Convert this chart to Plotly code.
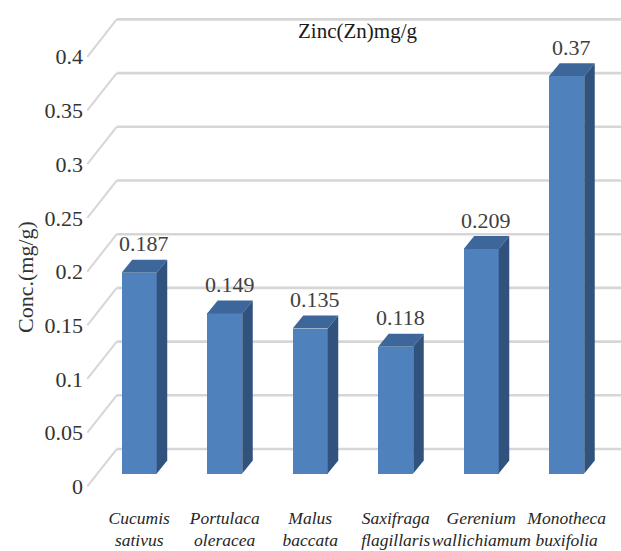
import plotly.graph_objects as go

# Zinc concentration per plant species (mg/g)
species = ["Cucumis<br>sativus", "Portulaca<br>oleracea", "Malus<br>baccata",
           "Saxifraga<br>flagillaris", "Gerenium<br>wallichiamum", "Monotheca<br>buxifolia"]
zinc = [0.187, 0.149, 0.135, 0.118, 0.209, 0.37]
y_ticks = [0, 0.05, 0.1, 0.15, 0.2, 0.25, 0.3, 0.35, 0.4]
y_tick_text = ["0", "0.05", "0.1", "0.15", "0.2", "0.25", "0.3", "0.35", "0.4"]

FRONT = "#4f81bd"
TOP = "#3d679a"
SIDE = "#30527c"
GRID = "#d6d6d6"
FONT = "Liberation Serif, Times New Roman, serif"

# pseudo-3D geometry (category units along x, value units along y)
BAR_W = 0.41          # front face width
DEPTH_X = 0.123       # bar depth projected on x
DEPTH_Y = 0.0121      # bar depth projected on y
WALL_Y = 0.0228       # back wall lift relative to the front plane
WALL_X0 = -0.263      # left edge of back wall
DIAG_X = -0.607       # lower end of the side-wall diagonals
DIAG_Y = -0.0348      # vertical drop of the side-wall diagonals

xs = list(range(len(zinc)))

fig = go.Figure()

# back wall gridlines plus the side-wall diagonals
for t in y_ticks:
    yb = t + WALL_Y
    fig.add_shape(type="line", xref="x", yref="y", layer="below",
                  x0=WALL_X0, y0=yb, x1=6.5, y1=yb,
                  line=dict(color=GRID, width=2.6))
    fig.add_shape(type="line", xref="x", yref="y", layer="below",
                  x0=DIAG_X, y0=yb + DIAG_Y, x1=WALL_X0, y1=yb,
                  line=dict(color=GRID, width=2))

# front faces
fig.add_trace(go.Bar(x=xs, y=zinc, width=BAR_W, marker=dict(color=FRONT, line=dict(width=0)),
                     hoverinfo="skip", showlegend=False))

# top and side faces of each bar
for x, v in zip(xs, zinc):
    xl, xr = x - BAR_W / 2, x + BAR_W / 2
    fig.add_trace(go.Scatter(
        x=[xl, xr, xr + DEPTH_X, xl + DEPTH_X, xl],
        y=[v, v, v + DEPTH_Y, v + DEPTH_Y, v],
        fill="toself", fillcolor=TOP, mode="lines", line=dict(width=0, color=TOP),
        hoverinfo="skip", showlegend=False))
    fig.add_trace(go.Scatter(
        x=[xr, xr + DEPTH_X, xr + DEPTH_X, xr, xr],
        y=[0, DEPTH_Y, v + DEPTH_Y, v, 0],
        fill="toself", fillcolor=SIDE, mode="lines", line=dict(width=0, color=SIDE),
        hoverinfo="skip", showlegend=False))

# value labels above each bar
for x, v in zip(xs, zinc):
    fig.add_annotation(x=x + DEPTH_X / 2, y=v + DEPTH_Y, xref="x", yref="y",
                       text=str(v), showarrow=False, yanchor="middle", yshift=16,
                       font=dict(family=FONT, size=22, color="#404040"))

# chart title and value-axis title
fig.add_annotation(x=0.5084, y=0.9376, xref="paper", yref="paper", text="Zinc(Zn)mg/g",
                   showarrow=False, xanchor="center", yanchor="middle",
                   font=dict(family=FONT, size=21, color="#1a1a1a"))
fig.add_annotation(x=-0.108, y=0.4427, xref="paper", yref="paper", text="Conc.(mg/g)",
                   showarrow=False, textangle=-90, xanchor="center", yanchor="middle",
                   font=dict(family=FONT, size=22, color="#333333"))

fig.update_layout(
    width=621, height=551,
    margin=dict(l=84, r=0, t=0, b=54),
    paper_bgcolor="white", plot_bgcolor="white",
    showlegend=False,
    bargap=0,
    xaxis=dict(range=[-0.6456, 5.635], tickvals=xs, ticktext=species,
               showgrid=False, zeroline=False, showline=False, ticks="",
               tickangle=0, automargin=False, ticklabelstandoff=8,
               tickfont=dict(family=FONT, size=17.5, color="#262626", style="italic")),
    yaxis=dict(range=[-0.02188, 0.44088], automargin=False,
               tickvals=[t + WALL_Y + DIAG_Y for t in y_ticks], ticktext=y_tick_text,
               showgrid=False, zeroline=False, showline=False, ticks="",
               tickfont=dict(family=FONT, size=22, color="#333333")),
)

fig.write_html("out.html")
